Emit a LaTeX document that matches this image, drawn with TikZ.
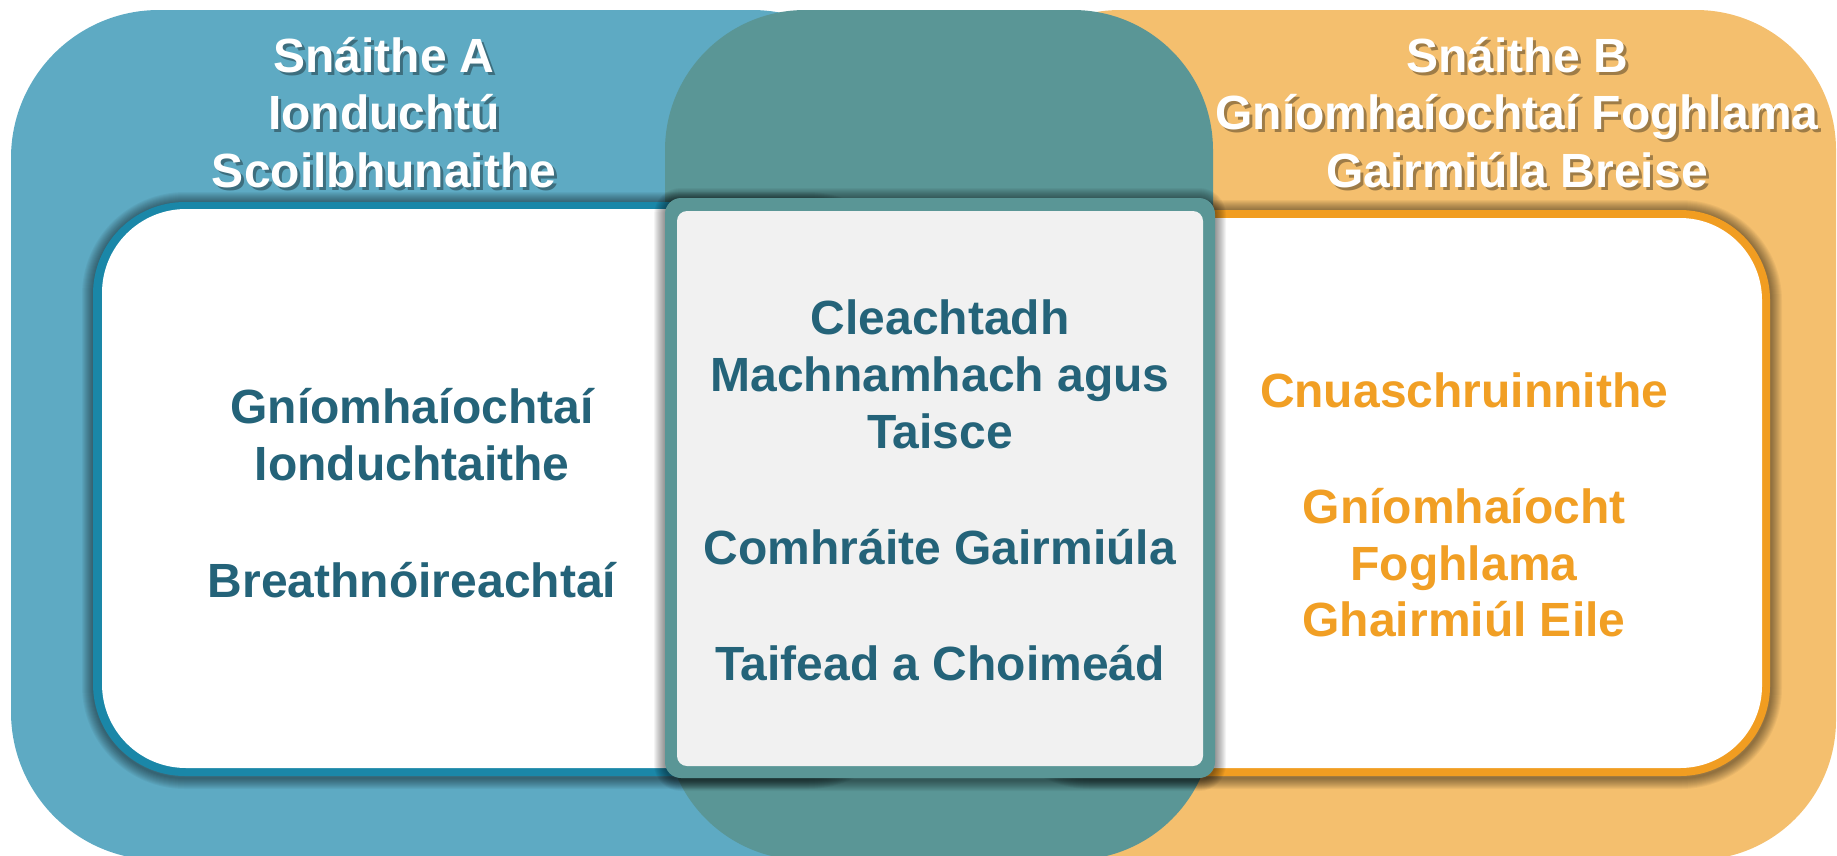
\documentclass[tikz,border=0pt]{standalone}
\usepackage{fontspec}
\setmainfont{Liberation Sans}
\definecolor{outerblue}{HTML}{5EAAC3}
\definecolor{outerteal}{HTML}{5A9696}
\definecolor{outerorange}{HTML}{F4BF6E}
\definecolor{borderblue}{HTML}{1A87A8}
\definecolor{borderorange}{HTML}{F19D21}
\definecolor{centerfill}{HTML}{F1F1F1}
\definecolor{darktext}{HTML}{246379}
\definecolor{orangetext}{HTML}{F19F24}
\newcommand{\softshadow}[3]{% radius, corner1, corner2
  \foreach \w in {2,4,...,22}{
    \draw[black, draw opacity=0.045, line width=\w pt, rounded corners=#1] #2 rectangle #3;
  }%
}
\begin{document}
\begin{tikzpicture}[x=1pt,y=-1pt,
  bigfont/.style={font=\fontsize{48}{57}\selectfont\bfseries},
  title/.style={bigfont, text=white, anchor=base, inner sep=0pt},
  titleshadow/.style={bigfont, text=black, text opacity=0.35, anchor=base, inner sep=0pt},
  body/.style={bigfont, text=darktext, anchor=base, inner sep=0pt},
  bodyorange/.style={body, text=orangetext}
]
\useasboundingbox (0,0) rectangle (1837,855);
\clip (0,0) rectangle (1837,855);
% outer bands
\fill[outerblue, rounded corners=148] (11,10) rectangle (900,860);
\fill[outerorange, rounded corners=140] (980,10) rectangle (1836,860);
\fill[outerteal, rounded corners=140] (665,10) rectangle (1213,860);
% left box
\softshadow{92}{(93,203)}{(900,778)}
\fill[borderblue, rounded corners=92] (93,202) rectangle (900,776);
\fill[white, rounded corners=84] (102,209) rectangle (895,768);
% right box
\softshadow{90}{(1000,211)}{(1771,778)}
\fill[borderorange, rounded corners=90] (1000,210) rectangle (1770,776);
\fill[white, rounded corners=82] (995,218) rectangle (1762,768);
% center box
\softshadow{16}{(665,199)}{(1215,780)}
\fill[outerteal, rounded corners=16] (665,198) rectangle (1215,778);
\fill[centerfill, rounded corners=10] (677,211) rectangle (1203,766);
% titles A
\foreach \t/\y/\n in {Snáithe A/72/a1, Ionduchtú/129/a2, Scoilbhunaithe/187/a3}{
  \node[titleshadow] (s\n) at (387,\y+3) {\t};
  \node[title] (t\n) at (384,\y) {\t};
}
% titles B
\foreach \t/\y/\n in {Snáithe B/72/b1, Gníomhaíochtaí Foghlama/129/b2, Gairmiúla Breise/187/b3}{
  \node[titleshadow] (s\n) at (1520,\y+3) {\t};
  \node[title] (t\n) at (1517,\y) {\t};
}
% left body
\node[body] (l1) at (412,423) {Gníomhaíochtaí};
\node[body] (l2) at (412,480) {Ionduchtaithe};
\node[body] (l3) at (412,597) {Breathnóireachtaí};
% center body
\node[body] (c1) at (940,334) {Cleachtadh};
\node[body] (c2) at (940,391) {Machnamhach agus};
\node[body] (c3) at (940,448) {Taisce};
\node[body] (c4) at (940,564) {Comhráite Gairmiúla};
\node[body] (c5) at (940,680) {Taifead a Choimeád};
% right body
\node[bodyorange] (r1) at (1464,407) {Cnuaschruinnithe};
\node[bodyorange] (r2) at (1464,523) {Gníomhaíocht};
\node[bodyorange] (r3) at (1464,580) {Foghlama};
\node[bodyorange] (r4) at (1464,636) {Ghairmiúl Eile};
\end{tikzpicture}
\end{document}
